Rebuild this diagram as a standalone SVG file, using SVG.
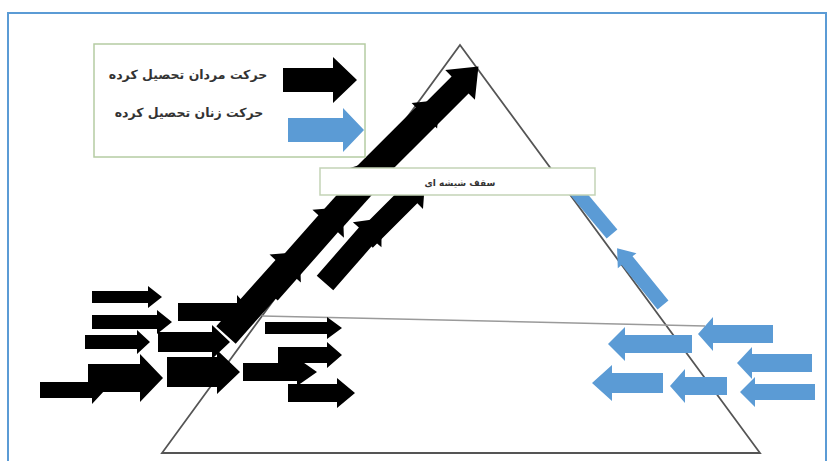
<svg xmlns="http://www.w3.org/2000/svg" width="830" height="461" viewBox="0 0 830 461">
<style>
.blk{fill:#000}
.blu{fill:#5b9bd5}
.lbl{font-family:"DejaVu Sans","Noto Sans",sans-serif;fill:#333;text-anchor:middle}
</style>
<rect x="0" y="0" width="830" height="461" fill="#fff"/>
<g id="frame"><rect x="8" y="13" width="818" height="460" fill="none" stroke="#5b9bd5" stroke-width="2"/></g>
<g id="pyramid">
<path d="M460,45 L760,453 L162,453 Z" fill="none" stroke="#555" stroke-width="1.8"/>
<path d="M262,316 L705,326" fill="none" stroke="#9a9a9a" stroke-width="1.5"/>
</g>
<g id="connectors">
<g id="men-arrows" class="blk">
<path d="M92,291 L148,291 L148,286 L162,297 L148,308 L148,303 L92,303 Z"/>
<path d="M92,315 L157,315 L157,310 L172,322 L157,334 L157,329 L92,329 Z"/>
<path d="M85,335 L137,335 L137,330 L150,342 L137,354 L137,349 L85,349 Z"/>
<path d="M88,364 L140,364 L140,354 L163,378 L140,402 L140,392 L88,392 Z"/>
<path d="M40,382 L92,382 L92,376 L105,390 L92,404 L92,398 L40,398 Z"/>
<path d="M178,303 L237,303 L237,295 L252,312 L237,329 L237,321 L178,321 Z"/>
<path d="M158,332 L212,332 L212,325 L230,342 L212,359 L212,352 L158,352 Z"/>
<path d="M167,357 L217,357 L217,350 L240,372 L217,394 L217,387 L167,387 Z"/>
<path d="M243,363 L297,363 L297,358 L317,372 L297,386 L297,381 L243,381 Z"/>
<path d="M265,322 L327,322 L327,317 L342,328 L327,339 L327,334 L265,334 Z"/>
<path d="M278,347 L327,347 L327,342 L342,355 L327,368 L327,363 L278,363 Z"/>
<path d="M288,384 L337,384 L337,378 L355,393 L337,408 L337,402 L288,402 Z"/>
<path transform="translate(226,335) rotate(-48.3)" d="M0,-13 L89,-13 L89,-21 L111,0 L89,21 L89,13 L0,13 Z"/>
<path transform="translate(268,292) rotate(-48.6)" d="M0,-13 L91,-13 L91,-21 L113,0 L91,21 L91,13 L0,13 Z"/>
<path transform="translate(330,222) rotate(-48)" d="M0,-13 L70,-13 L70,13 L0,13 Z"/>
<path transform="translate(325,283) rotate(-48.8)" d="M0,-11 L64,-11 L64,-19 L86,0 L64,19 L64,11 L0,11 Z"/>
<path transform="translate(365,240) rotate(-45)" d="M0,-11 L63,-11 L63,-19 L85,0 L63,19 L63,11 L0,11 Z"/>
<path transform="translate(360,180) rotate(-45)" d="M0,-12 L91,-12 L91,-18 L113,0 L91,18 L91,12 L0,12 Z"/>
<path transform="translate(383,162) rotate(-45)" d="M0,-12 L109,-12 L109,-21 L135,0 L109,21 L109,12 L0,12 Z"/>
<path d="M350,168 L372,161 L390,158 L392,168 Z"/>
</g>
<g id="women-arrows" class="blu">
<path d="M773,325 L713,325 L713,317 L698,334 L713,351 L713,343 L773,343 Z"/>
<path d="M692,335 L625,335 L625,327 L608,344 L625,361 L625,353 L692,353 Z"/>
<path d="M812,354 L752,354 L752,347 L737,363 L752,379 L752,372 L812,372 Z"/>
<path d="M663,373 L612,373 L612,365 L592,383 L612,401 L612,393 L663,393 Z"/>
<path d="M727,377 L685,377 L685,369 L670,386 L685,403 L685,395 L727,395 Z"/>
<path d="M815,384 L755,384 L755,377 L740,392 L755,407 L755,400 L815,400 Z"/>
<path transform="translate(612,234) rotate(-130)" d="M0,-7 L75,-7 L75,7 L0,7 Z"/>
<path transform="translate(663,305) rotate(-129)" d="M0,-7 L57,-7 L57,-12 L73,0 L57,12 L57,7 L0,7 Z"/>
</g>
</g>
<g id="legend">
<rect x="94" y="44" width="271" height="113" fill="#fff" stroke="#b5cca3" stroke-width="1.5"/>
<text class="lbl" x="188" y="79" font-size="12.5" font-weight="bold">حرکت مردان تحصیل کرده</text>
<text class="lbl" x="189" y="117" font-size="12.5" font-weight="bold">حرکت زنان تحصیل کرده</text>
<path class="blk" d="M283,68 L333,68 L333,57 L357,80 L333,103 L333,92 L283,92 Z"/>
<path class="blu" d="M288,118 L343,118 L343,108 L364,130 L343,152 L343,142 L288,142 Z"/>
</g>
<g id="glass-ceiling">
<rect x="320" y="168" width="275" height="27" fill="#fff" stroke="#c3d3b6" stroke-width="1.5"/>
<text class="lbl" x="460" y="186" font-size="9" font-weight="bold">سقف شیشه ای</text>
</g>
</svg>
